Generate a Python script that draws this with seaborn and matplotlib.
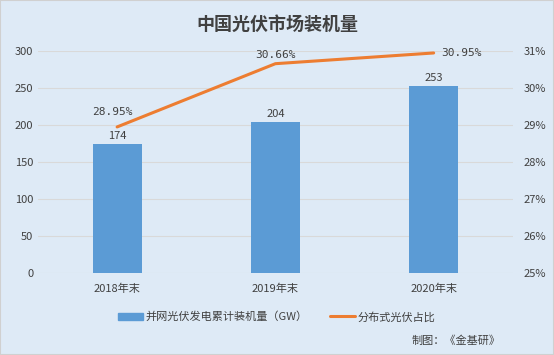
import matplotlib
matplotlib.use("Agg")
import matplotlib.pyplot as plt
import seaborn as sns
import pandas as pd
from matplotlib.lines import Line2D
from matplotlib.patches import Patch

sns.set_style("white")
plt.rcParams["font.family"] = ["Noto Sans CJK SC", "DejaVu Sans"]

years = ["2018年末", "2019年末", "2020年末"]
capacity = [174, 204, 253]
share = [28.95, 30.66, 30.95]

BG = "#DEEAF6"
TXT = "#404040"
df = pd.DataFrame({"year": years, "capacity": capacity, "share": share})

fig = plt.figure(figsize=(5.54, 3.55), dpi=100)
fig.patch.set_facecolor(BG)
ax = fig.add_axes([0.0686, 0.231, 0.857, 0.625])
ax.set_facecolor(BG)

sns.barplot(data=df, x="year", y="capacity", color="#5B9BD5", width=0.31,
            saturation=1, linewidth=0, edgecolor="none", ax=ax, zorder=3)
ax.set_ylim(0, 300)
ax.set_yticks(range(0, 301, 50))
ax.set_xlim(-0.5, 2.5)
ax.grid(axis="y", color="#D9D9D9", linewidth=0.8, zorder=0)
ax.set_xlabel("")
ax.set_ylabel("")
for s in ax.spines.values():
    s.set_visible(False)
ax.tick_params(axis="both", length=0, labelsize=8, colors=TXT)
ax.tick_params(axis="x", pad=8)
for i, v in enumerate(capacity):
    ax.text(i, v + 4, str(v), ha="center", va="bottom", fontsize=8, color=TXT, zorder=4)

ax2 = ax.twinx()
sns.lineplot(x=[0, 1, 2], y=share, color="#ED7D31", linewidth=2.2, ax=ax2, zorder=5)
ax2.set_ylim(25, 31)
ax2.set_yticks(range(25, 32))
ax2.set_yticklabels([f"{t}%" for t in range(25, 32)])
ax2.set_xlim(-0.5, 2.5)
for s in ax2.spines.values():
    s.set_visible(False)
ax2.tick_params(axis="y", length=0, labelsize=8, colors=TXT, pad=8)

# label placement: above-left, above, right
offsets = [(-0.03, 0.28, "center", "bottom"), (0.0, 0.10, "center", "bottom"),
           (0.05, 0.0, "left", "center")]
for i, v in enumerate(share):
    dx, dy, ha, va = offsets[i]
    ax2.text(i + dx, v + dy, f"{v:.2f}%", ha=ha, va=va, fontsize=8,
             color=TXT, family="DejaVu Sans Mono")

fig.text(0.5, 0.93, "中国光伏市场装机量", ha="center", va="center",
         fontsize=13, fontweight="bold", color=TXT)

handles = [Patch(color="#5B9BD5"), Line2D([0], [0], color="#ED7D31", linewidth=2.2)]
fig.legend(handles, ["并网光伏发电累计装机量（GW）", "分布式光伏占比"],
           loc="center", bbox_to_anchor=(0.5, 0.107), ncol=2, frameon=False,
           fontsize=8, handlelength=2.2, handletextpad=0.3, columnspacing=2,
           labelcolor=TXT)
fig.text(0.903, 0.04, "制图：《金基研》", ha="right", va="center",
         fontsize=8, color=TXT)

fig.add_artist(plt.Rectangle((0, 0), 1, 1, transform=fig.transFigure,
                             fill=False, edgecolor="#D0D0D0", linewidth=1.5))
plt.savefig("out.png", dpi=100, facecolor=BG)
